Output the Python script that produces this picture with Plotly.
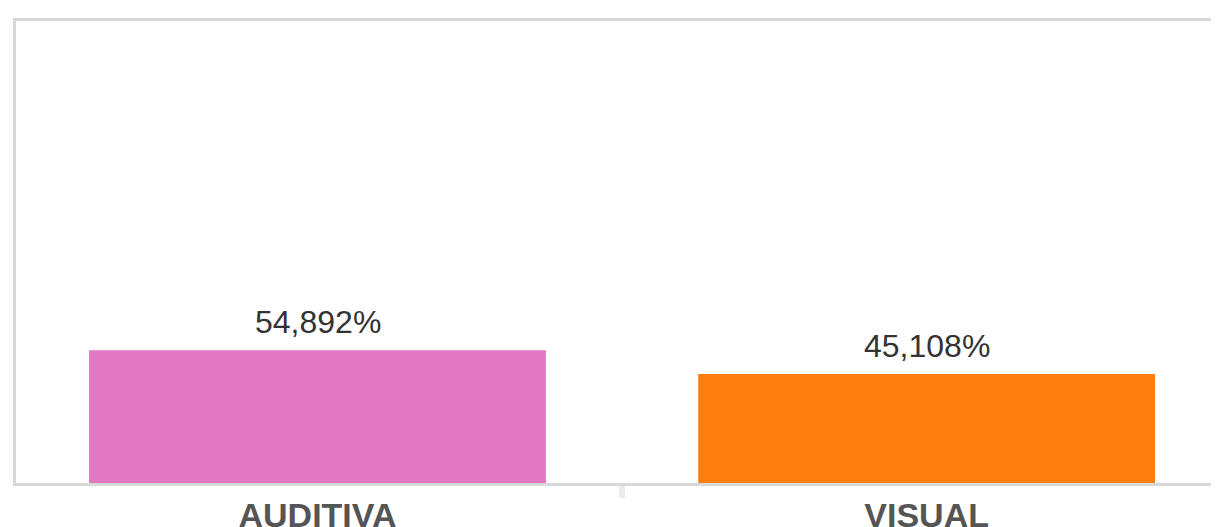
import plotly.graph_objects as go

categories = ["AUDITIVA", "VISUAL"]
values = [54.892, 45.108]
bar_colors = ["#e377c2", "#ff7f0e"]

labels = [f"{v:.3f}".replace(".", ",") + "%" for v in values]

fig = go.Figure()
fig.add_trace(go.Bar(
    x=categories, y=values,
    marker=dict(color=bar_colors, line=dict(width=0)),
    width=0.75,
    hoverinfo="skip",
))

for c, v, t in zip(categories, values, labels):
    fig.add_annotation(
        x=c, y=v, text=t, showarrow=False,
        yanchor="bottom", yshift=8,
        font=dict(family="Liberation Sans, Arial", size=32, color="#333333"),
    )

fig.update_layout(
    width=1211, height=519,
    margin=dict(l=8, r=0, t=13, b=44, autoexpand=False),
    paper_bgcolor="white", plot_bgcolor="white",
    showlegend=False,
    xaxis=dict(
        type="category",
        range=[-0.495, 1.48],
        automargin=False,
        showline=True, linecolor="#d8d8d8", linewidth=3, mirror=True,
        ticks="outside", tickson="boundaries", ticklen=12, tickwidth=6,
        tickcolor="#ebebeb",
        tickfont=dict(family="Liberation Sans, Arial", size=34, color="#555555", weight="bold"),
        showgrid=False, zeroline=False, fixedrange=True,
    ),
    yaxis=dict(
        range=[0, 191],
        automargin=False,
        showline=True, linecolor="#d8d8d8", linewidth=3, mirror=False,
        showticklabels=False, ticks="", showgrid=False, zeroline=False,
    ),
)

fig.write_html("out.html")
